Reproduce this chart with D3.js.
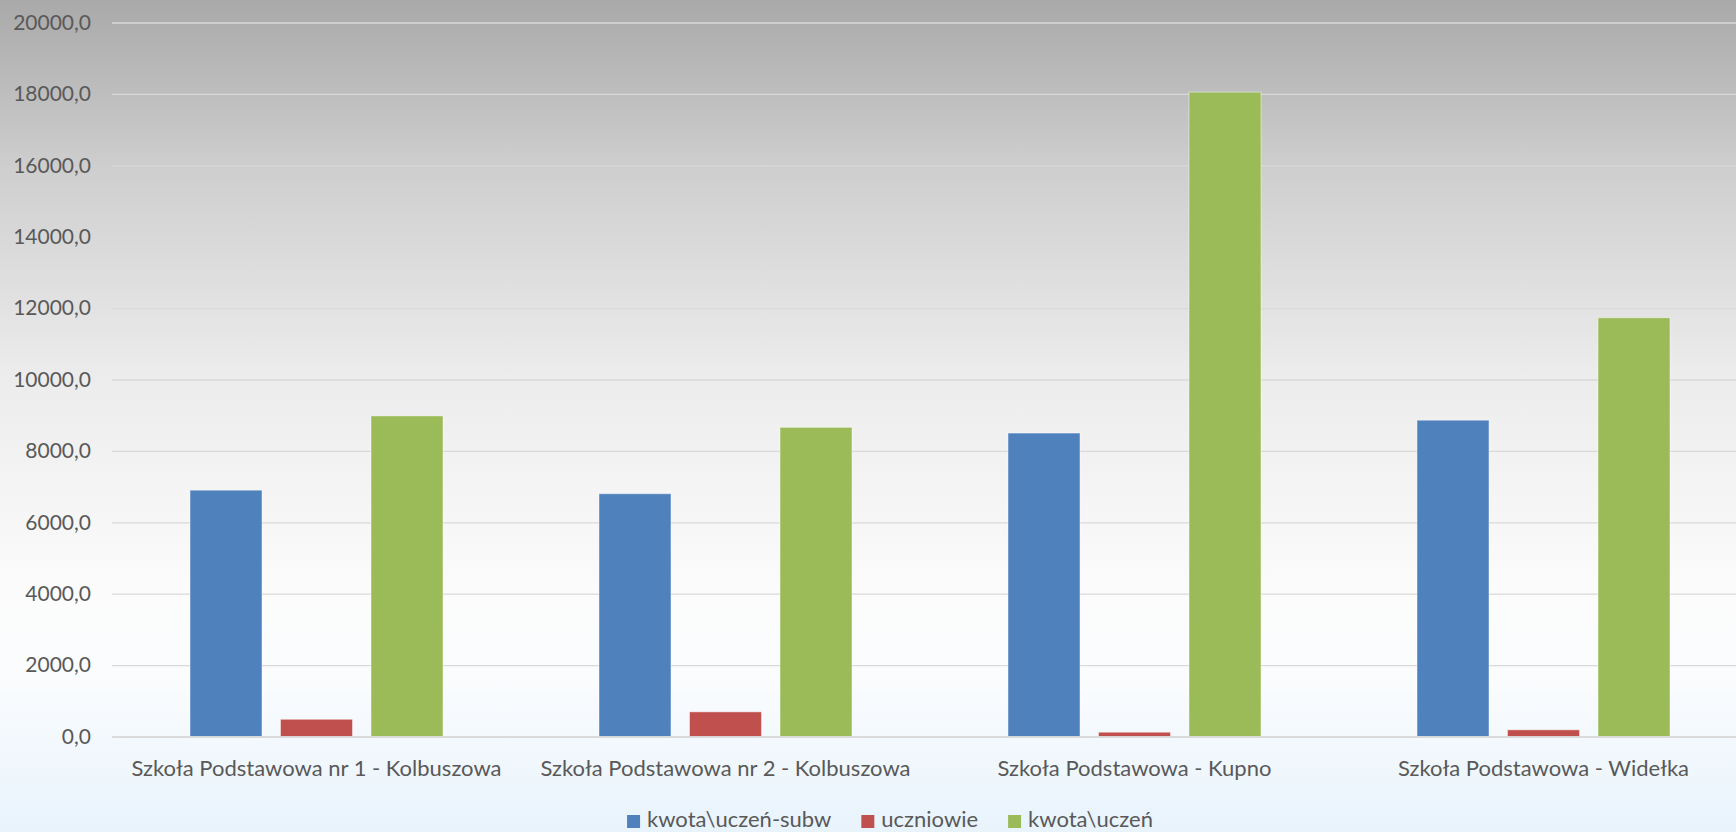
<!DOCTYPE html>
<html>
<head>
<meta charset="utf-8">
<script src="https://cdn.jsdelivr.net/npm/d3@7/dist/d3.min.js"></script>
<style>
  html, body { margin: 0; padding: 0; overflow: hidden; background: #fff; }
  svg { display: block; }
  text { font-family: Lato, "Noto Sans", sans-serif; fill: #595959; }
</style>
</head>
<body>
<svg id="chart" width="1736" height="832"></svg>
<script>
const categories = [
  "Szkoła Podstawowa nr 1 - Kolbuszowa",
  "Szkoła Podstawowa nr 2 - Kolbuszowa",
  "Szkoła Podstawowa - Kupno",
  "Szkoła Podstawowa - Widełka"
];
const seriesNames = ["kwota\\uczeń-subw", "uczniowie", "kwota\\uczeń"];
const seriesColors = ["#4f81bd", "#c0504d", "#9bbb59"];
const kwotaUczenSubw = [6900, 6800, 8500, 8860];
const uczniowie = [482, 690, 120, 187];
const kwotaUczen = [8980, 8660, 18050, 11730];
const yTicks = [0, 2000, 4000, 6000, 8000, 10000, 12000, 14000, 16000, 18000, 20000];

const seriesValues = [kwotaUczenSubw, uczniowie, kwotaUczen];

const W = 1736, H = 832;
const svg = d3.select("#chart");

// background gradient
const defs = svg.append("defs");
const grad = defs.append("linearGradient").attr("id", "bg")
  .attr("x1", 0).attr("y1", 0).attr("x2", 0).attr("y2", 1);
[[0, "#a9a9a9"], [0.2, "#cecece"], [0.45, "#ececec"], [0.72, "#fcfcfc"], [0.82, "#fafcfe"], [1, "#e8f3fc"]]
  .forEach(([o, c]) => grad.append("stop").attr("offset", o).attr("stop-color", c));
svg.append("rect").attr("width", W).attr("height", H).attr("fill", "url(#bg)");

const plotLeft = 112, plotRight = 1748, plotTop = 22.5, plotBottom = 736.5;

const x0 = d3.scaleBand().domain(categories).range([plotLeft, plotRight]).paddingInner(0).paddingOuter(0);
const groupHalf = 126.5;
const x1 = d3.scaleBand().domain(seriesNames).range([-groupHalf, groupHalf]).paddingInner(0.2044).paddingOuter(0);
const y = d3.scaleLinear().domain([0, 20000]).range([plotBottom, plotTop]);

const locale = d3.formatLocale({ decimal: ",", thousands: "", grouping: [3], currency: ["", ""] });
const fmt = locale.format(".1f");

// gridlines + y labels via axis
const yAxis = d3.axisLeft(y).tickValues(yTicks).tickFormat(fmt)
  .tickSize(-(plotRight - plotLeft)).tickPadding(21);
const gy = svg.append("g").attr("transform", `translate(${plotLeft},0)`).call(yAxis);
gy.select(".domain").remove();
gy.selectAll(".tick line").attr("stroke", "#d9d9d9").attr("stroke-width", 1.3);
gy.selectAll(".tick text").style("font-size", "21px").attr("fill", "#595959")
  .style("font-family", "Lato, 'Noto Sans', sans-serif");

// bars
const groups = svg.append("g").selectAll("g").data(categories).join("g")
  .attr("transform", d => `translate(${x0(d) + x0.bandwidth() / 2},0)`);
groups.selectAll("rect")
  .data((c, i) => seriesNames.map((s, j) => ({ s, j, v: seriesValues[j][i] })))
  .join("rect")
  .attr("x", d => x1(d.s))
  .attr("width", x1.bandwidth())
  .attr("y", d => y(d.v))
  .attr("height", d => y(0) - y(d.v))
  .attr("fill", d => seriesColors[d.j])
  .attr("stroke", "rgba(255,255,255,0.45)")
  .attr("stroke-width", 1);

// x axis
const xAxis = d3.axisBottom(x0).tickSize(0).tickPadding(0);
const gx = svg.append("g").attr("transform", `translate(0,${plotBottom})`).call(xAxis);
gx.select(".domain").attr("stroke", "#d9d9d9").attr("stroke-width", 1.5);
gx.selectAll(".tick text").attr("dy", null).attr("y", 39)
  .style("font-size", "22px").attr("fill", "#595959")
  .style("font-family", "Lato, 'Noto Sans', sans-serif");

// legend
const legendY = 827, legendCenter = 890;
const lg = svg.append("g");
const items = lg.selectAll("g").data(seriesNames).join("g");
items.append("rect").attr("width", 13).attr("height", 13).attr("y", legendY - 12)
  .attr("fill", (d, i) => seriesColors[i]);
items.append("text").attr("x", 20).attr("y", legendY).style("font-size", "22px").text(d => d);
let cx = 0;
const widths = [];
items.each(function () {
  const w = 20 + this.querySelector("text").getComputedTextLength();
  widths.push(w);
});
const gap = 30;
const total = d3.sum(widths) + gap * (widths.length - 1);
cx = legendCenter - total / 2;
items.attr("transform", (d, i) => {
  const t = `translate(${cx},0)`;
  cx += widths[i] + gap;
  return t;
});
</script>
</body>
</html>
